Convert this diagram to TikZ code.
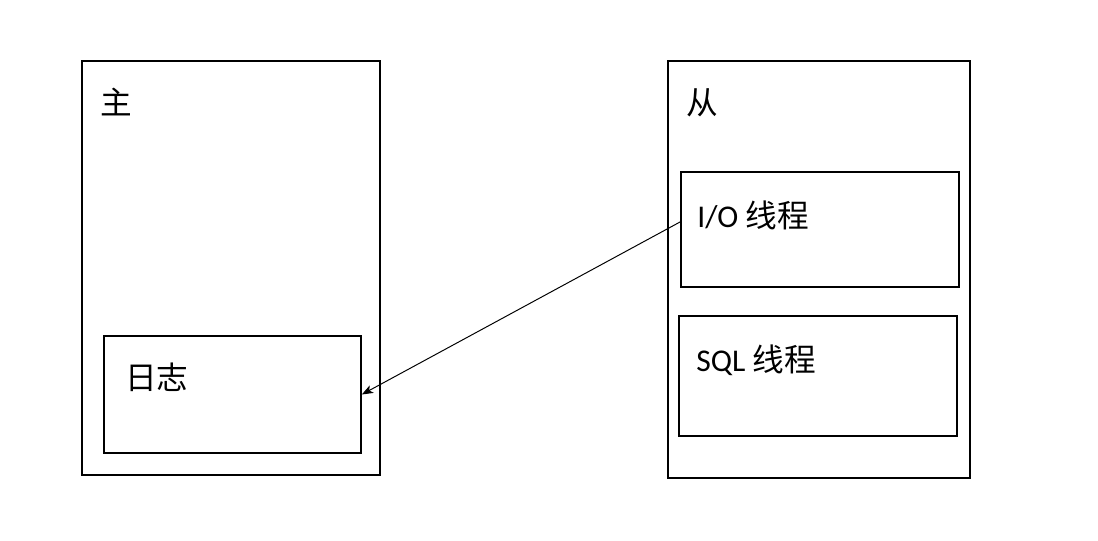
\documentclass[tikz,border=0pt]{standalone}
\usepackage{fontspec}
\setmainfont{Carlito}
\newfontfamily\cjk{Noto Sans CJK SC}
\usetikzlibrary{arrows.meta}
\begin{document}
\begin{tikzpicture}[x = .025cm, y = -.025cm]
		\tikzstyle{every node} = [font = \fontsize{22.5}{26}\selectfont]
		\tikzstyle{box} = [draw, line width = 1.1pt, inner sep = 0pt]
		\tikzstyle{txt} = [anchor = base west, inner sep = 0pt]
		\useasboundingbox (0,0) rectangle (1098,540);

		% master side
		\node [box, minimum width = 7.45cm, minimum height = 10.35cm] (master) at (231,268) {};
		\node [box, minimum width = 6.425cm, minimum height = 2.925cm] (log) at (232.5,394.5) {};
		\node [txt] (mastername) at (100,114) {\cjk 主};
		\node [txt] (logname) at (125,389) {\cjk 日志};

		% slave side
		\node [box, minimum width = 7.55cm, minimum height = 10.425cm] (slave) at (819,269.5) {};
		\node [box, minimum width = 6.95cm, minimum height = 2.875cm] (io) at (820,229.5) {};
		\node [box, minimum width = 6.95cm, minimum height = 3cm] (sql) at (818,376) {};
		\node [txt] (slavename) at (686,114) {\cjk 从};
		\node [txt] (ioname) at (697,227) {I/O {\cjk 线程}};
		\node [txt] (sqlname) at (696,371) {SQL {\cjk 线程}};

		\draw [line width = .7pt, -{Stealth[length = 8pt, width = 6pt, inset = 2pt]}] ([yshift = .19cm]io.west) -- (log.east); %io to log
	\end{tikzpicture}
\end{document}
